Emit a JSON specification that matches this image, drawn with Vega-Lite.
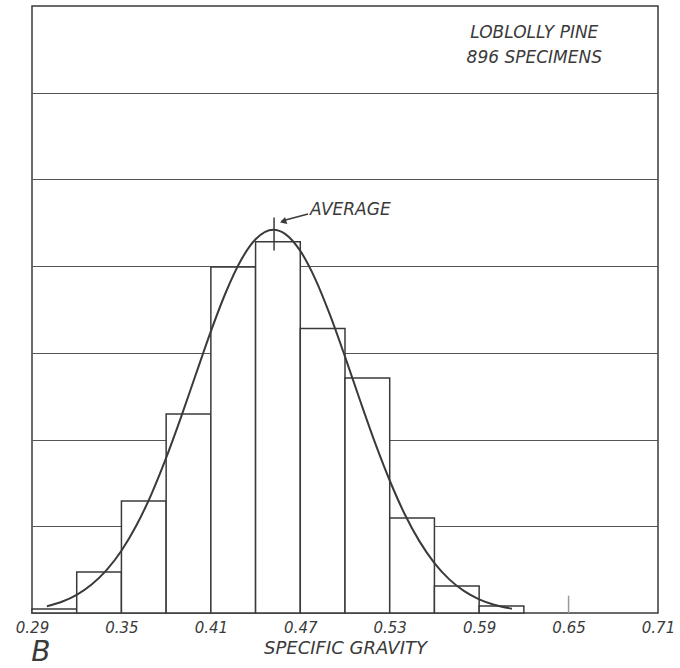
{
  "$schema": "https://vega.github.io/schema/vega-lite/v6.json",
  "width": 626,
  "height": 607,
  "autosize": {"type": "none"},
  "padding": {"left": 32, "top": 6, "right": 22, "bottom": 55},
  "background": "#ffffff",
  "config": {
    "view": {"stroke": "#3a3a3a", "strokeWidth": 1.5},
    "font": "DejaVu Sans"
  },
  "datasets": {
    "bars": [
      {"x0": 0.29, "x1": 0.32, "pct": 0.23},
      {"x0": 0.32, "x1": 0.35, "pct": 2.36},
      {"x0": 0.35, "x1": 0.38, "pct": 6.46},
      {"x0": 0.38, "x1": 0.41, "pct": 11.48},
      {"x0": 0.41, "x1": 0.44, "pct": 19.95},
      {"x0": 0.44, "x1": 0.47, "pct": 21.4},
      {"x0": 0.47, "x1": 0.50, "pct": 16.4},
      {"x0": 0.50, "x1": 0.53, "pct": 13.55},
      {"x0": 0.53, "x1": 0.56, "pct": 5.48},
      {"x0": 0.56, "x1": 0.59, "pct": 1.56},
      {"x0": 0.59, "x1": 0.62, "pct": 0.40}
    ],
    "curve": [
      {"x": 0.300, "y": 0.39},
      {"x": 0.310, "y": 0.65},
      {"x": 0.320, "y": 1.05},
      {"x": 0.330, "y": 1.64},
      {"x": 0.340, "y": 2.47},
      {"x": 0.350, "y": 3.59},
      {"x": 0.360, "y": 5.04},
      {"x": 0.370, "y": 6.83},
      {"x": 0.380, "y": 8.94},
      {"x": 0.390, "y": 11.29},
      {"x": 0.400, "y": 13.78},
      {"x": 0.410, "y": 16.24},
      {"x": 0.420, "y": 18.48},
      {"x": 0.430, "y": 20.31},
      {"x": 0.440, "y": 21.55},
      {"x": 0.452, "y": 22.1},
      {"x": 0.460, "y": 21.85},
      {"x": 0.470, "y": 20.88},
      {"x": 0.480, "y": 19.27},
      {"x": 0.490, "y": 17.17},
      {"x": 0.500, "y": 14.78},
      {"x": 0.510, "y": 12.28},
      {"x": 0.520, "y": 9.85},
      {"x": 0.530, "y": 7.64},
      {"x": 0.540, "y": 5.71},
      {"x": 0.550, "y": 4.13},
      {"x": 0.560, "y": 2.88},
      {"x": 0.570, "y": 1.94},
      {"x": 0.580, "y": 1.26},
      {"x": 0.590, "y": 0.79},
      {"x": 0.600, "y": 0.48},
      {"x": 0.612, "y": 0.25}
    ],
    "rules": [
      {"x": 0.4524, "y": 20.9, "x2": 0.4524, "y2": 22.8, "c": "dark"},
      {"x": 0.4752, "y": 23.01, "x2": 0.4575, "y2": 22.6, "c": "dark"},
      {"x": 0.65, "y": 0, "x2": 0.65, "y2": 1.0, "c": "light"}
    ],
    "arrow": [{"x": 0.4585, "y": 22.58}],
    "header": [
      {"x": 0.627, "y": 33.45, "label": "LOBLOLLY   PINE"},
      {"x": 0.627, "y": 32.0, "label": "896  SPECIMENS"}
    ],
    "avg": [{"x": 0.4766, "y": 23.24, "label": "AVERAGE"}],
    "panel": [{"x": 0.296, "y": -2.3, "label": "B"}]
  },
  "layer": [
    {
      "data": {"name": "bars"},
      "mark": {"type": "rect", "fill": "#ffffff", "stroke": "#3a3a3a", "strokeWidth": 1.5},
      "encoding": {
        "x": {
          "field": "x0", "type": "quantitative",
          "scale": {"domain": [0.29, 0.71], "nice": false, "zero": false},
          "axis": {
            "values": [0.29, 0.35, 0.41, 0.47, 0.53, 0.59, 0.65, 0.71],
            "format": ".2f", "grid": false, "ticks": false, "domain": false,
            "labelFont": "DejaVu Sans", "labelFontStyle": "italic", "labelFontSize": 15,
            "labelColor": "#3a3a3a", "labelPadding": 7, "labelFlush": false,
            "title": "SPECIFIC GRAVITY", "titleFont": "DejaVu Sans", "titleFontStyle": "italic",
            "titleFontWeight": "normal", "titleFontSize": 18, "titleColor": "#3a3a3a",
            "titlePadding": 4
          }
        },
        "x2": {"field": "x1"},
        "y": {
          "field": "pct", "type": "quantitative",
          "scale": {"domain": [0, 35], "nice": false, "zero": true},
          "axis": {
            "values": [5, 10, 15, 20, 25, 30], "grid": true, "gridColor": "#555555",
            "gridWidth": 1, "gridOpacity": 1, "labels": false, "ticks": false,
            "domain": false, "title": null
          }
        },
        "y2": {"datum": 0}
      }
    },
    {
      "data": {"name": "curve"},
      "mark": {"type": "line", "stroke": "#3a3a3a", "strokeWidth": 2, "interpolate": "monotone"},
      "encoding": {
        "x": {"field": "x", "type": "quantitative"},
        "y": {"field": "y", "type": "quantitative"}
      }
    },
    {
      "data": {"name": "rules"},
      "mark": {"type": "rule", "strokeWidth": 1.5},
      "encoding": {
        "x": {"field": "x", "type": "quantitative"},
        "y": {"field": "y", "type": "quantitative"},
        "x2": {"field": "x2"},
        "y2": {"field": "y2"},
        "color": {"field": "c", "type": "nominal", "scale": {"domain": ["dark", "light"], "range": ["#3a3a3a", "#9a9a9a"]}, "legend": null}
      }
    },
    {
      "data": {"name": "arrow"},
      "mark": {"type": "point", "shape": "triangle-left", "filled": true, "color": "#3a3a3a", "size": 55, "angle": 342, "opacity": 1},
      "encoding": {
        "x": {"field": "x", "type": "quantitative"},
        "y": {"field": "y", "type": "quantitative"}
      }
    },
    {
      "data": {"name": "header"},
      "mark": {"type": "text", "font": "DejaVu Sans", "fontStyle": "italic", "fontSize": 17, "align": "center", "baseline": "middle", "color": "#3a3a3a"},
      "encoding": {
        "x": {"field": "x", "type": "quantitative"},
        "y": {"field": "y", "type": "quantitative"},
        "text": {"field": "label"}
      }
    },
    {
      "data": {"name": "avg"},
      "mark": {"type": "text", "font": "DejaVu Sans", "fontStyle": "italic", "fontSize": 17, "align": "left", "baseline": "middle", "color": "#3a3a3a"},
      "encoding": {
        "x": {"field": "x", "type": "quantitative"},
        "y": {"field": "y", "type": "quantitative"},
        "text": {"field": "label"}
      }
    },
    {
      "data": {"name": "panel"},
      "mark": {"type": "text", "font": "DejaVu Sans", "fontStyle": "italic", "fontWeight": 200, "fontSize": 28, "align": "center", "baseline": "middle", "color": "#3a3a3a", "clip": false},
      "encoding": {
        "x": {"field": "x", "type": "quantitative"},
        "y": {"field": "y", "type": "quantitative"},
        "text": {"field": "label"}
      }
    }
  ]
}
